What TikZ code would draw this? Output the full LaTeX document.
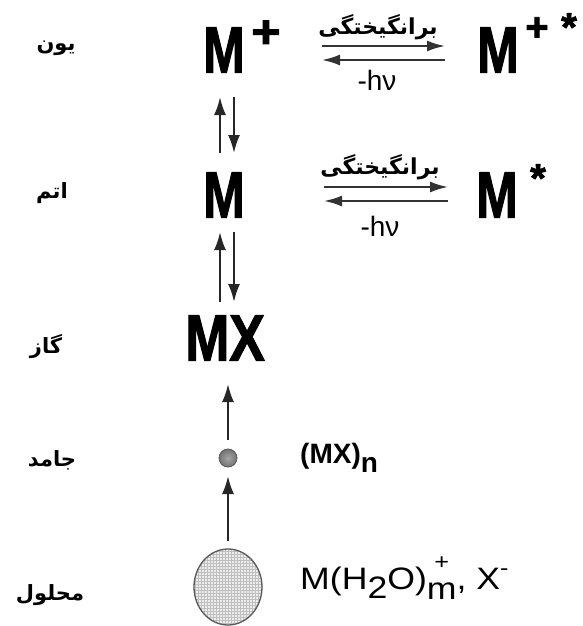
\documentclass[tikz,border=0pt]{standalone}
\usepackage{fontspec}
\setmainfont{Liberation Sans}
\newfontfamily\heavyfont[UprightFeatures={FakeBold=2}, BoldFeatures={FakeBold=2}]{Liberation Sans}
\newfontfamily\fa[Script=Arabic]{DejaVu Sans}
\TeXXeTstate=1
\usetikzlibrary{arrows.meta,patterns,shapes.geometric}
\begin{document}
\begin{tikzpicture}[x=1pt,y=-1pt,
  big/.style={font=\heavyfont\bfseries\fontsize{50}{50}\selectfont, inner sep=0pt},
  supsym/.style={font=\heavyfont\bfseries\fontsize{46}{46}\selectfont, inner sep=0pt},
  label/.style={font=\fa\bfseries\fontsize{21}{21}\selectfont, inner sep=0pt},
  excite/.style={font=\fa\bfseries\fontsize{22}{22}\selectfont, inner sep=0pt},
  hnu/.style={font=\fontsize{28}{28}\selectfont, inner sep=0pt},
  harrow/.style={line width=2.2pt, draw=black!80, arrows={-Latex[length=18pt,width=11pt]}},
  varrow/.style={line width=2.2pt, draw=black!85, arrows={-Latex[length=18pt,width=12pt]}},
  formula/.style={inner sep=0pt, anchor=west}]
\useasboundingbox (0,0) rectangle (583,626);

% state labels (Persian)
\node[label] (lion) at (56,48) {\beginR یون\endR};
\node[label] (latom) at (52,193) {\beginR اتم\endR};
\node[label] (lgas) at (46,347) {\beginR گاز\endR};
\node[label] (lsolid) at (52,460) {\beginR جامد\endR};
\node[label] (lsol) at (50,595) {\beginR محلول\endR};

% species
\node[big] (Mp) at (224,50) {\scalebox{1}[1.3]{M}};
\node[supsym] (Mpplus) at (266,34) {\scalebox{1.1}[1]{+}};
\node[big] (Mpx) at (498,50) {\scalebox{1}[1.3]{M}};
\node[supsym,font=\heavyfont\bfseries\fontsize{40}{40}\selectfont] (Mpxplus) at (537,29) {+};
\node[supsym,font=\heavyfont\bfseries\fontsize{40}{40}\selectfont] (Mpxstar) at (569,27) {*};
\node[big] (M) at (224,195) {\scalebox{1}[1.3]{M}};
\node[big] (Mx) at (497,195) {\scalebox{1}[1.3]{M}};
\node[supsym,font=\heavyfont\bfseries\fontsize{40}{40}\selectfont] (Mxstar) at (538,178) {*};
\node[big] (MX) at (225,338) {\scalebox{1.06}[1.3]{MX}};

% excitation labels
\node[excite] (ex1) at (378,27) {\beginR برانگیختگی\endR};
\node[hnu] (hv1) at (377,80) {-hν};
\node[excite] (ex2) at (380,167) {\beginR برانگیختگی\endR};
\node[hnu] (hv2) at (380,226) {-hν};

% horizontal arrow end points
\coordinate (a1l) at (322,46); \coordinate (a1r) at (445,46);
\coordinate (b1l) at (322,60); \coordinate (b1r) at (445,60);
\coordinate (a2l) at (324,187); \coordinate (a2r) at (448,187);
\coordinate (b2l) at (324,201); \coordinate (b2r) at (448,201);
\draw[harrow] (a1l) -- (a1r);
\draw[harrow] (b1r) -- (b1l);
\draw[harrow] (a2l) -- (a2r);
\draw[harrow] (b2r) -- (b2l);

% vertical equilibrium arrows
\coordinate (u1b) at (220,153); \coordinate (u1t) at (220,97);
\coordinate (d1t) at (234,97); \coordinate (d1b) at (234,153);
\coordinate (u2b) at (220,302); \coordinate (u2t) at (220,232);
\coordinate (d2t) at (234,232); \coordinate (d2b) at (234,302);
\draw[varrow] (u1b) -- (u1t);
\draw[varrow] (d1t) -- (d1b);
\draw[varrow] (u2b) -- (u2t);
\draw[varrow] (d2t) -- (d2b);

% particles
\node[circle, draw=black!65, line width=0.8pt, inner color=gray!70, outer color=gray!90!black, minimum size=18pt, inner sep=0pt] (sc) at (228,458) {};
\node[ellipse, draw=black!65, line width=1.3pt, preaction={fill=gray!15}, pattern=grid, pattern color=gray!50, minimum width=68pt, minimum height=76pt, inner sep=0pt] (bc) at (228,587) {};

\coordinate (s1) at (228,440); \coordinate (s1t) at (228,384);
\coordinate (s2) at (228,541); \coordinate (s2t) at (228,476);
\draw[varrow] (s1) -- (s1t);
\draw[varrow] (s2) -- (s2t);

% formulas
\node[formula, font=\bfseries\fontsize{28}{28}\selectfont] (mxn) at (300,458) {(MX)\raisebox{-9pt}{n}};
\node[formula, font=\fontsize{31}{31}\selectfont] (sol) at (300,578) {\scalebox{1.15}[1]{M(H\raisebox{-9pt}{2}O)\raisebox{-10pt}{m}\llap{\makebox[26pt]{\raisebox{20pt}{\fontsize{22}{22}\selectfont +}}}, X\raisebox{14pt}{\fontsize{22}{22}\selectfont -}}};
\end{tikzpicture}
\end{document}
